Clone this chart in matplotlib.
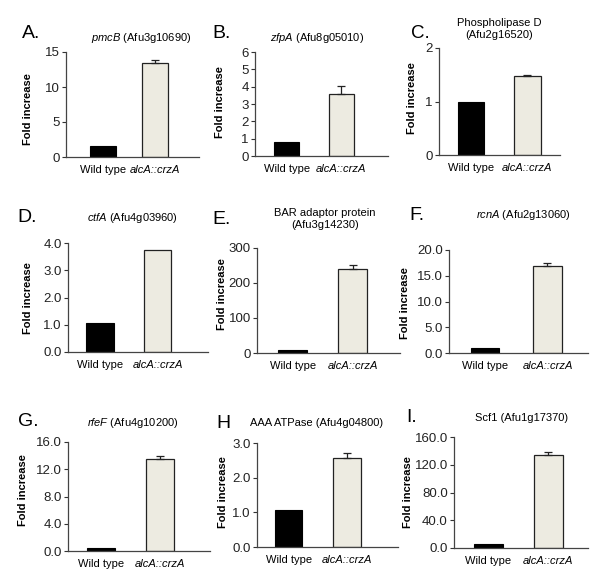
import matplotlib
matplotlib.use("Agg")
import matplotlib.pyplot as plt

plt.rcParams['font.family'] = ['Liberation Sans', 'DejaVu Sans']
plt.rcParams['mathtext.fontset'] = 'custom'
plt.rcParams['mathtext.rm'] = 'Liberation Sans'
plt.rcParams['mathtext.it'] = 'Liberation Sans:italic'

# ---- data ----
categories = ["Wild type", "alcA::crzA"]
letters = ["A.", "B.", "C.", "D.", "E.", "F.", "G.", "H", "I."]
titles = [r"$\it{pmcB}$ (Afu3g10690)",
          r"$\it{zfpA}$ (Afu8g05010)",
          "Phospholipase D\n(Afu2g16520)",
          r"$\it{ctfA}$ (Afu4g03960)",
          "BAR adaptor protein\n(Afu3g14230)",
          r"$\it{rcnA}$ (Afu2g13060)",
          r"$\it{rfeF}$ (Afu4g10200)",
          "AAA ATPase (Afu4g04800)",
          "Scf1 (Afu1g17370)"]
wt_values = [1.6, 0.8, 1.0, 1.05, 8, 1.0, 0.5, 1.08, 6]
crz_values = [13.5, 3.6, 1.48, 3.75, 240, 16.9, 13.5, 2.58, 134]
crz_errors = [0.4, 0.45, 0.01, 0.0, 10, 0.6, 0.5, 0.13, 5]
y_ticks = [[0, 5, 10, 15], [0, 1, 2, 3, 4, 5, 6], [0, 1, 2],
           [0, 1, 2, 3, 4], [0, 100, 200, 300], [0, 5, 10, 15, 20],
           [0, 4, 8, 12, 16], [0, 1, 2, 3], [0, 40, 80, 120, 160]]
y_fmt = ["{:.0f}", "{:.0f}", "{:.0f}", "{:.1f}", "{:.0f}", "{:.1f}",
         "{:.1f}", "{:.1f}", "{:.1f}"]

# ---- layout (pixels) ----
W, H = 600, 588
# x0, x1, top, bottom, xlim_left, xlim_right, bar width
axes_px = [(66, 199, 52, 157, -0.72, 1.84, 0.50),
           (255, 388, 52, 156, -0.58, 1.86, 0.46),
           (439, 560, 48, 155, -0.57, 1.58, 0.47),
           (68, 208, 243, 352, -0.56, 1.88, 0.48),
           (257, 400, 248, 353, -0.59, 1.78, 0.48),
           (449, 588, 250, 353, -0.58, 1.65, 0.46),
           (68, 210, 442, 551, -0.56, 1.85, 0.47),
           (257, 398, 443, 547, -0.54, 1.87, 0.47),
           (454, 588, 437, 548, -0.575, 1.66, 0.475)]
letter_px = [(22, 34), (212, 34), (411, 34), (17, 217), (212, 219),
             (409, 215), (18, 422), (216, 423), (406, 418)]
title_px = [(141, 38), (317, 38), (499, 29), (133, 218), (325, 219),
            (523, 215), (133, 423), (317, 423), (522, 418)]
ylabel_px = [(28, 109), (220, 102), (412, 98), (28, 298), (222, 294),
             (405, 303), (23, 490), (223, 492), (408, 492)]

fig = plt.figure(figsize=(W / 100, H / 100), dpi=100)
fig.patch.set_facecolor("white")

for i in range(9):
    x0, x1, top, bot, xl, xr, bw = axes_px[i]
    ax = fig.add_axes([x0 / W, 1 - bot / H, (x1 - x0) / W, (bot - top) / H])
    ax.bar([0], [wt_values[i]], width=bw, color="black", edgecolor="black", lw=0.8)
    ax.bar([1], [crz_values[i]], width=bw, color="#EDEBE1", edgecolor="#222222", lw=0.9)
    if crz_errors[i] > 0:
        ax.errorbar([1], [crz_values[i]], yerr=[[0], [crz_errors[i]]],
                    fmt="none", ecolor="#222222", elinewidth=0.9,
                    capsize=3, capthick=0.9)
    ax.set_xlim(xl, xr)
    ax.set_ylim(y_ticks[i][0], y_ticks[i][-1])
    ax.set_yticks(y_ticks[i])
    ax.set_yticklabels([y_fmt[i].format(v) for v in y_ticks[i]], fontsize=9.5)
    ax.set_xticks([0, 1])
    labs = ax.set_xticklabels(categories, fontsize=8)
    labs[1].set_fontstyle("italic")
    ax.tick_params(axis="x", length=0, pad=6)
    ax.tick_params(axis="y", length=3, width=0.8, pad=1.5, colors="#333333",
                   labelcolor="#222222")
    for s in ["top", "right"]:
        ax.spines[s].set_visible(False)
    for s in ["left", "bottom"]:
        ax.spines[s].set_color("#444444")
        ax.spines[s].set_linewidth(0.9)
    ax.set_facecolor("none")

    lx, ly = letter_px[i]
    fig.text(lx / W, 1 - ly / H, letters[i], fontsize=14 if i != 2 else 13.5,
             ha="left", va="center")
    tx, ty = title_px[i]
    fig.text(tx / W, 1 - ty / H, titles[i], fontsize=8, ha="center", va="center",
             linespacing=1.15)
    yx, yy = ylabel_px[i]
    fig.text(yx / W, 1 - yy / H, "Fold increase", fontsize=8, fontweight="bold",
             rotation=90, ha="center", va="center")

fig.savefig("out.png", dpi=100)
